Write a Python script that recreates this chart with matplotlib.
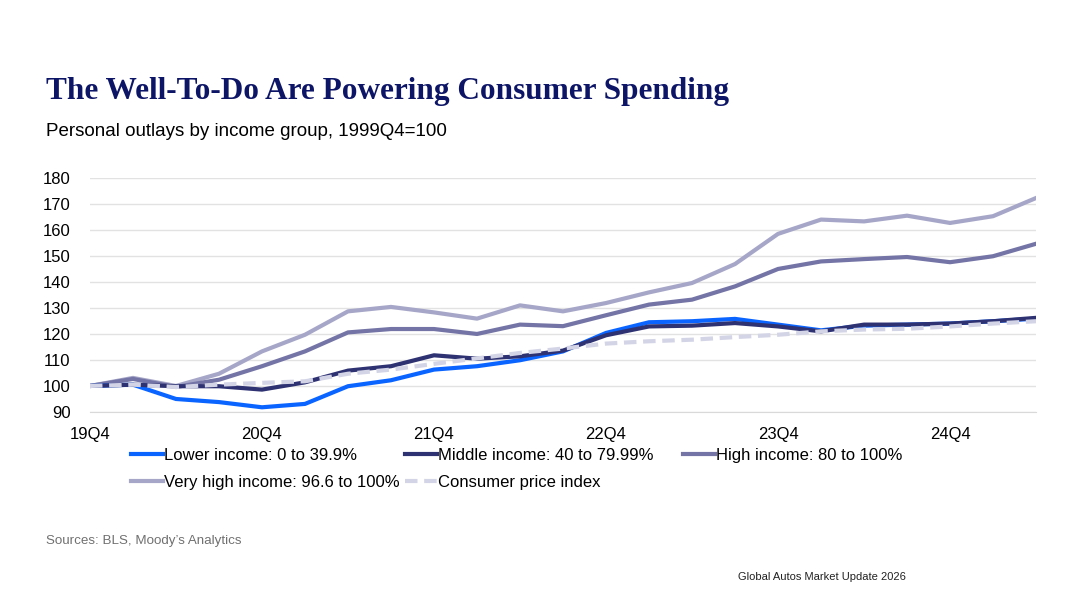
import matplotlib
matplotlib.use('Agg')
import matplotlib.pyplot as plt

# Кварталы от 19Q4 до 25Q2
quarters = ['19Q4', '20Q1', '20Q2', '20Q3', '20Q4', '21Q1', '21Q2', '21Q3',
            '21Q4', '22Q1', '22Q2', '22Q3', '22Q4', '23Q1', '23Q2', '23Q3',
            '23Q4', '24Q1', '24Q2', '24Q3', '24Q4', '25Q1', '25Q2']
tick_labels = ['19Q4', '20Q4', '21Q4', '22Q4', '23Q4', '24Q4']

lower = [100, 100.5, 95, 93.8, 91.8, 93.1, 99.9, 102.2, 106.3, 107.6, 109.9, 113.3,
         120.4, 124.5, 124.9, 125.8, 123.6, 121.4, 123.2, 123.6, 124.0, 124.9, 125.9]
middle = [100, 100.5, 99.9, 99.9, 98.6, 101.4, 105.9, 107.6, 111.8, 110.5, 111.4, 113.6,
          119.5, 122.9, 123.2, 124.2, 122.9, 121.0, 123.6, 123.6, 124.0, 124.9, 126.2]
high = [100, 102.7, 99.6, 102.4, 107.6, 113.3, 120.6, 121.9, 121.9, 120.0, 123.6, 123.0,
        127.2, 131.3, 133.2, 138.3, 145.0, 147.9, 148.8, 149.6, 147.6, 149.9, 154.7]
very_high = [100, 103.1, 100, 104.7, 113.3, 119.7, 128.7, 130.4, 128.3, 125.9, 131.0, 128.7,
             131.9, 136.0, 139.6, 146.9, 158.5, 164.0, 163.3, 165.5, 162.7, 165.3, 172.3]
cpi = [100, 100.5, 99.6, 100.5, 101.2, 101.8, 104.7, 106.3, 108.5, 110.6, 112.7, 114.4,
       116.3, 117.2, 117.8, 118.8, 119.7, 121.0, 121.7, 122.0, 122.9, 124.0, 124.9]

fig = plt.figure(figsize=(10.8, 6.07), dpi=100)
plt.rcParams['font.family'] = ['Liberation Sans', 'DejaVu Sans']

ax = fig.add_axes([0.0833, 0.3213, 0.876, 0.3855])
x = list(range(len(quarters)))

l_vh, = ax.plot(x, very_high, color='#a6a6c8', lw=3, zorder=3)
l_hi, = ax.plot(x, high, color='#7474a6', lw=3, zorder=4)
l_lo, = ax.plot(x, lower, color='#0a64ff', lw=3, zorder=5)
l_mid, = ax.plot(x, middle, color='#2e3272', lw=3, zorder=6)
l_cpi, = ax.plot(x, cpi, color='#d3d4e6', lw=3, ls=(0, (3, 1.6)), zorder=7)

ax.set_xlim(0, len(quarters) - 1)
ax.set_ylim(90, 180)
ax.set_yticks(range(90, 181, 10))
ax.set_xticks([quarters.index(t) for t in tick_labels])
ax.set_xticklabels(tick_labels)
ax.grid(axis='y', color='#e2e2e2', lw=1)
ax.set_axisbelow(True)
for s in ['top', 'right', 'left']:
    ax.spines[s].set_visible(False)
ax.spines['bottom'].set_color('#d9d9d9')
ax.tick_params(axis='both', length=0, labelsize=12, colors='black')
ax.tick_params(axis='y', pad=14)
ax.tick_params(axis='x', pad=11)

# Легенда: три колонки, каждая своей легендой
columns = [
    ([l_lo, l_vh], ['Lower income: 0 to 39.9%', 'Very high income: 96.6 to 100%'], 131),
    ([l_mid, l_cpi], ['Middle income: 40 to 79.99%', 'Consumer price index'], 405),
    ([l_hi], ['High income: 80 to 100%'], 683),
]
for hs, ls, xpx in columns:
    fig.legend(hs, ls, loc='upper left', bbox_to_anchor=(xpx / 1080, 1 - 448 / 607),
               frameon=False, fontsize=12, handlelength=1.92, handletextpad=0.08,
               labelspacing=0.7, borderaxespad=0, borderpad=0)

fig.text(0.043, 0.85, 'The Well-To-Do Are Powering Consumer Spending',
         family=['Liberation Serif'], weight='bold', fontsize=22.5, color='#0d1566', va='center')
fig.text(0.043, 0.784, 'Personal outlays by income group, 1999Q4=100', fontsize=13.5, va='center')
fig.text(0.043, 0.108, 'Sources: BLS, Moody\u2019s Analytics', fontsize=9.6, color='#707070', va='center')
fig.text(0.683, 0.049, 'Global Autos Market Update 2026', fontsize=8, color='#222222', va='center')

fig.savefig('out.png', dpi=100)
